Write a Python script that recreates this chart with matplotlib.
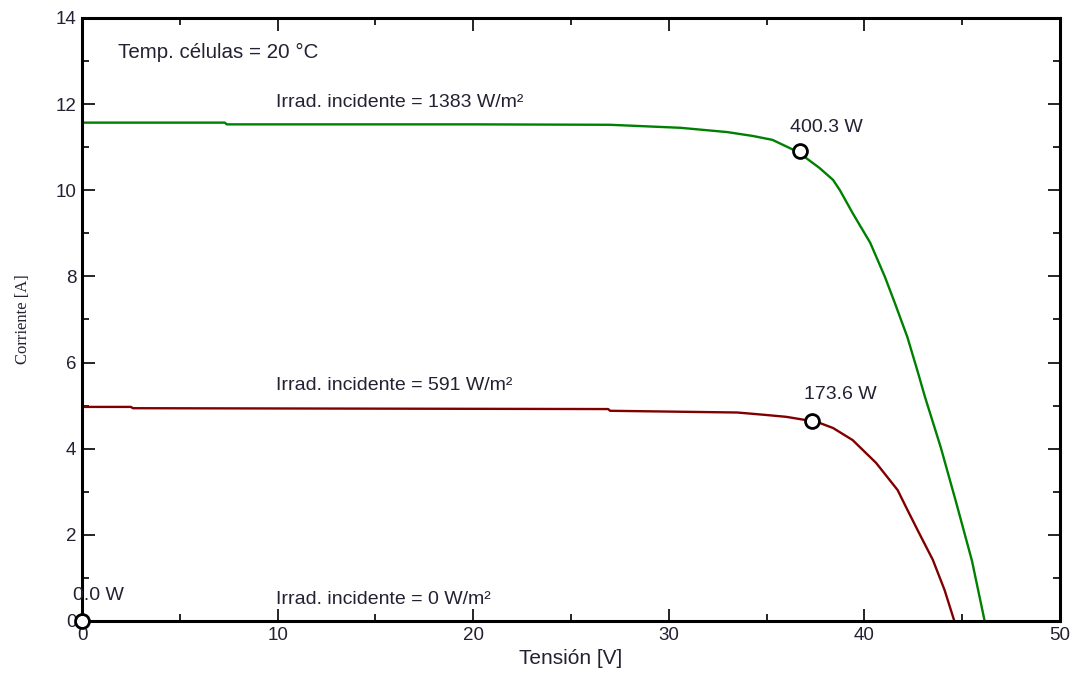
import matplotlib

matplotlib.use("Agg")
import matplotlib.pyplot as plt  # noqa: E402
from matplotlib.ticker import MultipleLocator  # noqa: E402

# I-V curves
V_HIGH = [0, 7.3, 7.4, 20, 27, 30.6, 33.0, 34.3, 35.3, 36.6, 37.7, 38.4,
          38.75, 39.4, 40.3, 41.05, 41.56, 42.2, 42.7, 43.1, 43.9, 44.7,
          45.5, 46.15]
I_HIGH = [11.57, 11.57, 11.53, 11.53, 11.52, 11.45, 11.35, 11.26, 11.17,
          10.89, 10.52, 10.24, 10.0, 9.47, 8.78, 7.99, 7.38, 6.59, 5.83,
          5.2, 4.04, 2.74, 1.4, 0]

V_LOW = [0, 2.5, 2.6, 26.9, 27.0, 33.5, 34.8, 36.0, 37.2, 37.7, 38.4, 39.4,
         40.6, 41.7, 42.2, 42.8, 43.5, 44.1, 44.6]
I_LOW = [4.97, 4.97, 4.94, 4.92, 4.88, 4.84, 4.79, 4.74, 4.65, 4.6, 4.48,
         4.2, 3.67, 3.04, 2.58, 2.04, 1.42, 0.72, 0]

# maximum power points
MPP_V = [36.7, 37.3, 0.0]
MPP_I = [10.91, 4.65, 0.0]
MPP_LABELS = ["400.3 W", "173.6 W", "0.0 W"]
MPP_LABEL_POS = [(36.2, 11.45), (36.9, 5.25), (-0.45, 0.58)]

IRRAD_LABELS = ["Irrad. incidente = 1383 W/m²", "Irrad. incidente = 591 W/m²",
                "Irrad. incidente = 0 W/m²"]
IRRAD_POS = [(9.9, 12.03), (9.9, 5.46), (9.9, 0.49)]

TEXT_COLOR = "#222233"
FS = 14

plt.rcParams["font.family"] = ["Liberation Sans", "DejaVu Sans"]

fig = plt.figure(figsize=(10.75, 6.78), dpi=100)
ax = fig.add_axes([0.0763, 0.0841, 0.9097, 0.8894])

ax.plot(V_HIGH, I_HIGH, color="#008000", lw=1.7, zorder=2)
ax.plot(V_LOW, I_LOW, color="#800000", lw=1.7, zorder=2)
ax.plot(MPP_V, MPP_I, "o", ms=10, mfc="white", mec="black", mew=2,
        clip_on=False, zorder=5)

for label, (x, y) in zip(MPP_LABELS, MPP_LABEL_POS):
    ax.text(x, y, label, fontsize=FS, color=TEXT_COLOR, ha="left", va="center")
for label, (x, y) in zip(IRRAD_LABELS, IRRAD_POS):
    ax.text(x, y, label, fontsize=FS, color=TEXT_COLOR, ha="left", va="center")
ax.text(1.85, 13.2, "Temp. células = 20 °C", fontsize=FS + 0.8,
        color=TEXT_COLOR, ha="left", va="center")

ax.set_xlim(0, 50)
ax.set_ylim(0, 14)
ax.xaxis.set_major_locator(MultipleLocator(10))
ax.xaxis.set_minor_locator(MultipleLocator(5))
ax.yaxis.set_major_locator(MultipleLocator(2))
ax.yaxis.set_minor_locator(MultipleLocator(1))
ax.tick_params(which="both", direction="in", top=True, right=True, width=1.2,
               labelsize=13.5, labelcolor=TEXT_COLOR)
ax.tick_params(which="major", length=9, pad=4)
ax.tick_params(which="minor", length=5)
for sp in ax.spines.values():
    sp.set_linewidth(2.2)

ax.set_xlabel("Tensión [V]", fontsize=15, color=TEXT_COLOR, labelpad=4)
ax.set_ylabel("Corriente [A]", fontsize=12, color=TEXT_COLOR,
              family=["Liberation Serif", "DejaVu Serif"], labelpad=18)

fig.savefig("out.png", dpi=100)
